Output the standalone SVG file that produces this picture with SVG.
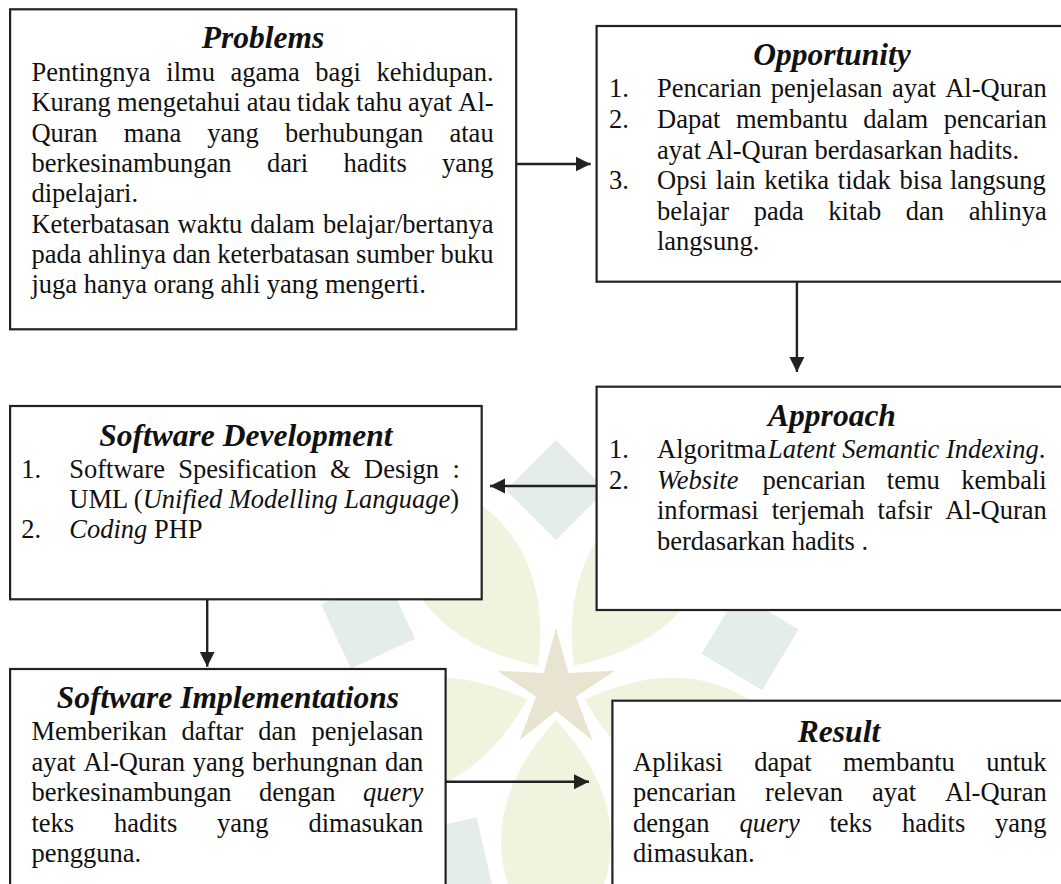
<svg xmlns="http://www.w3.org/2000/svg" width="1061" height="884" viewBox="0 0 1061 884">
<defs>
<style>
.box{fill:#fff;stroke:#222;stroke-width:2.2}
.t{font-family:"Liberation Serif","Times New Roman",serif;font-size:26.5px;fill:#111}
.h{font-family:"Liberation Serif","Times New Roman",serif;font-size:31.5px;font-weight:bold;font-style:italic;fill:#111;text-anchor:middle}
.i{font-style:italic}
.c{fill:none;stroke:#222;stroke-width:2.4}
.wg{fill:#f0f4de}
.wb{fill:#e5ecec}
</style>
<marker id="ah" markerUnits="userSpaceOnUse" markerWidth="16" markerHeight="16" refX="15" refY="8" orient="auto" viewBox="0 0 16 16"><path d="M0,0.5 L15,8 L0,15.5 Z" fill="#222"/></marker>
<path id="petal" d="M30,0 Q150,-110 275,0 Q150,110 30,0 Z"/>
<path id="kite" d="M150,0 L200,-50 L250,0 L200,50 Z"/>
</defs>
<rect width="1061" height="884" fill="#fff"/>
<g id="watermark">
<g class="wg" transform="translate(556,690)">
<use href="#petal" transform="rotate(-54)"/><use href="#petal" transform="rotate(18)"/><use href="#petal" transform="rotate(90)"/><use href="#petal" transform="rotate(162)"/><use href="#petal" transform="rotate(234)"/>
</g>
<g class="wb" transform="translate(556,690)">
<use href="#kite" transform="rotate(-90)"/><use href="#kite" transform="rotate(-14)"/><use href="#kite" transform="rotate(60)"/><use href="#kite" transform="rotate(122)"/><use href="#kite" transform="rotate(200)"/>
</g>
<polygon fill="#e9e4d1" points="556,628 568.3,673 615,670.8 576,696.5 592.4,740.2 556,711 519.6,740.2 536,696.5 497,670.8 543.7,673"/>
</g>
<g id="connectors">
<line class="c" x1="516.2" y1="164" x2="590.7" y2="164" marker-end="url(#ah)"/>
<line class="c" x1="796.9" y1="281.7" x2="796.9" y2="372" marker-end="url(#ah)"/>
<line class="c" x1="596.6" y1="486" x2="490" y2="486" marker-end="url(#ah)"/>
<line class="c" x1="207.2" y1="599.3" x2="207.2" y2="666.7" marker-end="url(#ah)"/>
<line class="c" x1="445.6" y1="781.7" x2="589" y2="781.7" marker-end="url(#ah)"/>
</g>
<g id="problems">
<rect class="box" x="10.1" y="9.3" width="506.1" height="320"/>
<text class="h" x="263" y="48.3">Problems</text>
<text class="t" y="81"><tspan x="31.4">Pentingnya</tspan><tspan x="166.3">ilmu</tspan><tspan x="230.5">agama</tspan><tspan x="315.3">bagi</tspan><tspan x="376.6">kehidupan.</tspan></text>
<text class="t" y="111.3"><tspan x="31.4">Kurang</tspan><tspan x="117.1">mengetahui</tspan><tspan x="246.8">atau</tspan><tspan x="297.1">tidak</tspan><tspan x="356.3">tahu</tspan><tspan x="408.1">ayat</tspan><tspan x="458.3">Al-</tspan></text>
<text class="t" y="141.6"><tspan x="31.4">Quran</tspan><tspan x="123.8">mana</tspan><tspan x="207.3">yang</tspan><tspan x="285">berhubungan</tspan><tspan x="449.5">atau</tspan></text>
<text class="t" y="171.9"><tspan x="31.4">berkesinambungan</tspan><tspan x="266.9">dari</tspan><tspan x="343.4">hadits</tspan><tspan x="442">yang</tspan></text>
<text class="t" x="31.4" y="202.2">dipelajari.</text>
<text class="t" y="232.5"><tspan x="31.4">Keterbatasan</tspan><tspan x="177.6">waktu</tspan><tspan x="250.2">dalam</tspan><tspan x="322.9">belajar/bertanya</tspan></text>
<text class="t" y="262.8"><tspan x="31.4">pada</tspan><tspan x="87.9">ahlinya</tspan><tspan x="172.4">dan</tspan><tspan x="217.2">keterbatasan</tspan><tspan x="356.1">sumber</tspan><tspan x="440.6">buku</tspan></text>
<text class="t" x="31.4" y="293.1">juga hanya orang ahli yang mengerti.</text>
</g>
<g id="opportunity">
<rect class="box" x="596.6" y="26" width="480" height="255.7"/>
<text class="h" x="832" y="65">Opportunity</text>
<text class="t" x="609" y="97.3">1.</text>
<text class="t" y="97.3"><tspan x="657">Pencarian</tspan><tspan x="770.7">penjelasan</tspan><tspan x="891.9">ayat</tspan><tspan x="945.2">Al-Quran</tspan></text>
<text class="t" x="609" y="128">2.</text>
<text class="t" y="128"><tspan x="657">Dapat</tspan><tspan x="735.9">membantu</tspan><tspan x="863.3">dalam</tspan><tspan x="943.7">pencarian</tspan></text>
<text class="t" x="657" y="158.5">ayat Al-Quran berdasarkan hadits.</text>
<text class="t" x="609" y="189">3.</text>
<text class="t" y="189"><tspan x="657">Opsi</tspan><tspan x="715.8">lain</tspan><tspan x="764.3">ketika</tspan><tspan x="837.8">tidak</tspan><tspan x="899.6">bisa</tspan><tspan x="950">langsung</tspan></text>
<text class="t" y="219.5"><tspan x="657">belajar</tspan><tspan x="753.7">pada</tspan><tspan x="828.3">kitab</tspan><tspan x="905.8">dan</tspan><tspan x="968.7">ahlinya</tspan></text>
<text class="t" x="657" y="250">langsung.</text>
</g>
<g id="approach">
<rect class="box" x="596.6" y="386.7" width="480" height="223.3"/>
<text class="h" x="832" y="425.7">Approach</text>
<text class="t" x="609" y="458">1.</text>
<text class="t" y="458"><tspan x="657">Algoritma</tspan><tspan x="767.9" class="i">Latent Semantic Indexing</tspan><tspan>.</tspan></text>
<text class="t" x="609" y="488.5">2.</text>
<text class="t" y="488.5"><tspan x="657" class="i">Website</tspan><tspan x="762.4">pencarian</tspan><tspan x="886.8">temu</tspan><tspan x="961.3">kembali</tspan></text>
<text class="t" y="519"><tspan x="657">informasi</tspan><tspan x="771.7">terjemah</tspan><tspan x="877.6">tafsir</tspan><tspan x="945.2">Al-Quran</tspan></text>
<text class="t" x="657" y="549.5">berdasarkan hadits .</text>
</g>
<g id="software-development">
<rect class="box" x="10.1" y="406" width="471.6" height="193.3"/>
<text class="h" x="245.9" y="446">Software Development</text>
<text class="t" x="21.3" y="478.3">1.</text>
<text class="t" y="478.3"><tspan x="69.3">Software</tspan><tspan x="178.3">Spesification</tspan><tspan x="330.1">&amp;</tspan><tspan x="364">Design</tspan><tspan x="452.4">:</tspan></text>
<text class="t" x="69.3" y="508.3">UML (<tspan class="i">Unified Modelling Language</tspan>)</text>
<text class="t" x="21.3" y="538.3">2.</text>
<text class="t" x="69.3" y="538.3"><tspan class="i">Coding</tspan> PHP</text>
</g>
<g id="software-implementations">
<rect class="box" x="10.1" y="669" width="435.5" height="240"/>
<text class="h" x="227.9" y="708.3">Software Implementations</text>
<text class="t" y="740"><tspan x="31.4">Memberikan</tspan><tspan x="181.6">daftar</tspan><tspan x="258.3">dan</tspan><tspan x="311.4">penjelasan</tspan></text>
<text class="t" y="770.8"><tspan x="31.4">ayat</tspan><tspan x="83.4">Al-Quran</tspan><tspan x="192.7">yang</tspan><tspan x="252.1">berhungnan</tspan><tspan x="385">dan</tspan></text>
<text class="t" y="801.2"><tspan x="31.4">berkesinambungan</tspan><tspan x="259.1">dengan</tspan><tspan x="363" class="i">query</tspan></text>
<text class="t" y="831.6"><tspan x="31.4">teks</tspan><tspan x="114">hadits</tspan><tspan x="217.1">yang</tspan><tspan x="308.5">dimasukan</tspan></text>
<text class="t" x="31.4" y="862">pengguna.</text>
</g>
<g id="result">
<rect class="box" x="612.4" y="700.7" width="470" height="220"/>
<text class="h" x="839" y="741.7">Result</text>
<text class="t" y="770.8"><tspan x="633.1">Aplikasi</tspan><tspan x="754.2">dapat</tspan><tspan x="843">membantu</tspan><tspan x="986.2">untuk</tspan></text>
<text class="t" y="801.2"><tspan x="633.1">pencarian</tspan><tspan x="765.1">relevan</tspan><tspan x="872">ayat</tspan><tspan x="945.1">Al-Quran</tspan></text>
<text class="t" y="831.6"><tspan x="633.1">dengan</tspan><tspan x="739.4" class="i">query</tspan><tspan x="829.5">teks</tspan><tspan x="902">hadits</tspan><tspan x="995.1">yang</tspan></text>
<text class="t" x="633.1" y="862">dimasukan.</text>
</g>
</svg>
